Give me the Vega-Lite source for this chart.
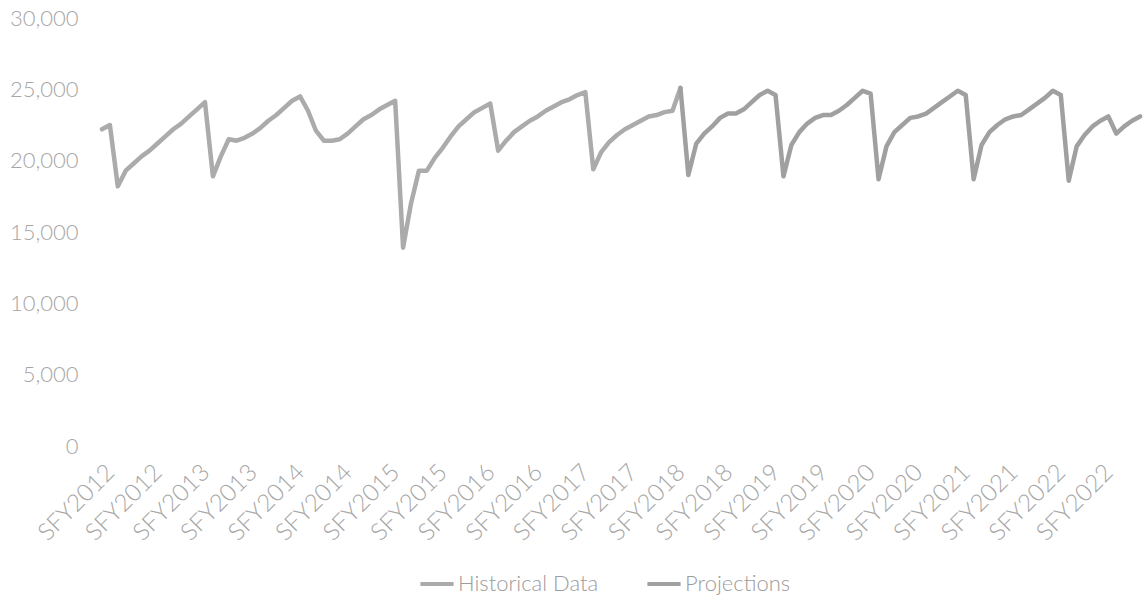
{
  "$schema": "https://vega.github.io/schema/vega-lite/v6.json",
  "width": 1046,
  "height": 428,
  "autosize": {"type": "none"},
  "padding": {"left": 98, "top": 18, "right": 0, "bottom": 154},
  "background": "white",
  "config": {
    "view": {"stroke": null},
    "font": "Lato",
    "axis": {"labelFont": "Lato", "labelFontWeight": 300, "labelColor": "#a6a6a6", "labelFontSize": 22},
    "legend": {"labelFont": "Lato", "labelFontWeight": 300, "labelColor": "#9c9c9c", "labelFontSize": 22}
  },
  "data": {
    "values": [
      {"m": "2011-07", "v": 22200, "s": "Historical Data"},
      {"m": "2011-08", "v": 22500, "s": "Historical Data"},
      {"m": "2011-09", "v": 18200, "s": "Historical Data"},
      {"m": "2011-10", "v": 19300, "s": "Historical Data"},
      {"m": "2011-11", "v": 19800, "s": "Historical Data"},
      {"m": "2011-12", "v": 20300, "s": "Historical Data"},
      {"m": "2012-01", "v": 20700, "s": "Historical Data"},
      {"m": "2012-02", "v": 21200, "s": "Historical Data"},
      {"m": "2012-03", "v": 21700, "s": "Historical Data"},
      {"m": "2012-04", "v": 22200, "s": "Historical Data"},
      {"m": "2012-05", "v": 22600, "s": "Historical Data"},
      {"m": "2012-06", "v": 23100, "s": "Historical Data"},
      {"m": "2012-07", "v": 23600, "s": "Historical Data"},
      {"m": "2012-08", "v": 24100, "s": "Historical Data"},
      {"m": "2012-09", "v": 18900, "s": "Historical Data"},
      {"m": "2012-10", "v": 20300, "s": "Historical Data"},
      {"m": "2012-11", "v": 21500, "s": "Historical Data"},
      {"m": "2012-12", "v": 21400, "s": "Historical Data"},
      {"m": "2013-01", "v": 21600, "s": "Historical Data"},
      {"m": "2013-02", "v": 21900, "s": "Historical Data"},
      {"m": "2013-03", "v": 22300, "s": "Historical Data"},
      {"m": "2013-04", "v": 22800, "s": "Historical Data"},
      {"m": "2013-05", "v": 23200, "s": "Historical Data"},
      {"m": "2013-06", "v": 23700, "s": "Historical Data"},
      {"m": "2013-07", "v": 24200, "s": "Historical Data"},
      {"m": "2013-08", "v": 24500, "s": "Historical Data"},
      {"m": "2013-09", "v": 23500, "s": "Historical Data"},
      {"m": "2013-10", "v": 22100, "s": "Historical Data"},
      {"m": "2013-11", "v": 21400, "s": "Historical Data"},
      {"m": "2013-12", "v": 21400, "s": "Historical Data"},
      {"m": "2014-01", "v": 21500, "s": "Historical Data"},
      {"m": "2014-02", "v": 21900, "s": "Historical Data"},
      {"m": "2014-03", "v": 22400, "s": "Historical Data"},
      {"m": "2014-04", "v": 22900, "s": "Historical Data"},
      {"m": "2014-05", "v": 23200, "s": "Historical Data"},
      {"m": "2014-06", "v": 23600, "s": "Historical Data"},
      {"m": "2014-07", "v": 23900, "s": "Historical Data"},
      {"m": "2014-08", "v": 24200, "s": "Historical Data"},
      {"m": "2014-09", "v": 13900, "s": "Historical Data"},
      {"m": "2014-10", "v": 17000, "s": "Historical Data"},
      {"m": "2014-11", "v": 19300, "s": "Historical Data"},
      {"m": "2014-12", "v": 19300, "s": "Historical Data"},
      {"m": "2015-01", "v": 20200, "s": "Historical Data"},
      {"m": "2015-02", "v": 20900, "s": "Historical Data"},
      {"m": "2015-03", "v": 21700, "s": "Historical Data"},
      {"m": "2015-04", "v": 22400, "s": "Historical Data"},
      {"m": "2015-05", "v": 22900, "s": "Historical Data"},
      {"m": "2015-06", "v": 23400, "s": "Historical Data"},
      {"m": "2015-07", "v": 23700, "s": "Historical Data"},
      {"m": "2015-08", "v": 24000, "s": "Historical Data"},
      {"m": "2015-09", "v": 20700, "s": "Historical Data"},
      {"m": "2015-10", "v": 21400, "s": "Historical Data"},
      {"m": "2015-11", "v": 22000, "s": "Historical Data"},
      {"m": "2015-12", "v": 22400, "s": "Historical Data"},
      {"m": "2016-01", "v": 22800, "s": "Historical Data"},
      {"m": "2016-02", "v": 23100, "s": "Historical Data"},
      {"m": "2016-03", "v": 23500, "s": "Historical Data"},
      {"m": "2016-04", "v": 23800, "s": "Historical Data"},
      {"m": "2016-05", "v": 24100, "s": "Historical Data"},
      {"m": "2016-06", "v": 24300, "s": "Historical Data"},
      {"m": "2016-07", "v": 24600, "s": "Historical Data"},
      {"m": "2016-08", "v": 24800, "s": "Historical Data"},
      {"m": "2016-09", "v": 19400, "s": "Historical Data"},
      {"m": "2016-10", "v": 20600, "s": "Historical Data"},
      {"m": "2016-11", "v": 21300, "s": "Historical Data"},
      {"m": "2016-12", "v": 21800, "s": "Historical Data"},
      {"m": "2017-01", "v": 22200, "s": "Historical Data"},
      {"m": "2017-02", "v": 22500, "s": "Historical Data"},
      {"m": "2017-03", "v": 22800, "s": "Historical Data"},
      {"m": "2017-04", "v": 23100, "s": "Historical Data"},
      {"m": "2017-05", "v": 23200, "s": "Historical Data"},
      {"m": "2017-06", "v": 23400, "s": "Historical Data"},
      {"m": "2017-07", "v": 23500, "s": "Historical Data"},
      {"m": "2017-08", "v": 25100, "s": "Historical Data"},
      {"m": "2017-08", "v": 25100, "s": "Projections"},
      {"m": "2017-09", "v": 19000, "s": "Projections"},
      {"m": "2017-10", "v": 21200, "s": "Projections"},
      {"m": "2017-11", "v": 21900, "s": "Projections"},
      {"m": "2017-12", "v": 22400, "s": "Projections"},
      {"m": "2018-01", "v": 23000, "s": "Projections"},
      {"m": "2018-02", "v": 23300, "s": "Projections"},
      {"m": "2018-03", "v": 23300, "s": "Projections"},
      {"m": "2018-04", "v": 23600, "s": "Projections"},
      {"m": "2018-05", "v": 24100, "s": "Projections"},
      {"m": "2018-06", "v": 24600, "s": "Projections"},
      {"m": "2018-07", "v": 24900, "s": "Projections"},
      {"m": "2018-08", "v": 24600, "s": "Projections"},
      {"m": "2018-09", "v": 18900, "s": "Projections"},
      {"m": "2018-10", "v": 21100, "s": "Projections"},
      {"m": "2018-11", "v": 22000, "s": "Projections"},
      {"m": "2018-12", "v": 22600, "s": "Projections"},
      {"m": "2019-01", "v": 23000, "s": "Projections"},
      {"m": "2019-02", "v": 23200, "s": "Projections"},
      {"m": "2019-03", "v": 23200, "s": "Projections"},
      {"m": "2019-04", "v": 23500, "s": "Projections"},
      {"m": "2019-05", "v": 23900, "s": "Projections"},
      {"m": "2019-06", "v": 24400, "s": "Projections"},
      {"m": "2019-07", "v": 24900, "s": "Projections"},
      {"m": "2019-08", "v": 24700, "s": "Projections"},
      {"m": "2019-09", "v": 18700, "s": "Projections"},
      {"m": "2019-10", "v": 21000, "s": "Projections"},
      {"m": "2019-11", "v": 22000, "s": "Projections"},
      {"m": "2019-12", "v": 22500, "s": "Projections"},
      {"m": "2020-01", "v": 23000, "s": "Projections"},
      {"m": "2020-02", "v": 23100, "s": "Projections"},
      {"m": "2020-03", "v": 23300, "s": "Projections"},
      {"m": "2020-04", "v": 23700, "s": "Projections"},
      {"m": "2020-05", "v": 24100, "s": "Projections"},
      {"m": "2020-06", "v": 24500, "s": "Projections"},
      {"m": "2020-07", "v": 24900, "s": "Projections"},
      {"m": "2020-08", "v": 24600, "s": "Projections"},
      {"m": "2020-09", "v": 18700, "s": "Projections"},
      {"m": "2020-10", "v": 21100, "s": "Projections"},
      {"m": "2020-11", "v": 22000, "s": "Projections"},
      {"m": "2020-12", "v": 22500, "s": "Projections"},
      {"m": "2021-01", "v": 22900, "s": "Projections"},
      {"m": "2021-02", "v": 23100, "s": "Projections"},
      {"m": "2021-03", "v": 23200, "s": "Projections"},
      {"m": "2021-04", "v": 23600, "s": "Projections"},
      {"m": "2021-05", "v": 24000, "s": "Projections"},
      {"m": "2021-06", "v": 24400, "s": "Projections"},
      {"m": "2021-07", "v": 24900, "s": "Projections"},
      {"m": "2021-08", "v": 24600, "s": "Projections"},
      {"m": "2021-09", "v": 18600, "s": "Projections"},
      {"m": "2021-10", "v": 21000, "s": "Projections"},
      {"m": "2021-11", "v": 21800, "s": "Projections"},
      {"m": "2021-12", "v": 22400, "s": "Projections"},
      {"m": "2022-01", "v": 22800, "s": "Projections"},
      {"m": "2022-02", "v": 23100, "s": "Projections"},
      {"m": "2022-03", "v": 21900, "s": "Projections"},
      {"m": "2022-04", "v": 22400, "s": "Projections"},
      {"m": "2022-05", "v": 22800, "s": "Projections"},
      {"m": "2022-06", "v": 23100, "s": "Projections"}
    ]
  },
  "mark": {"type": "line", "strokeWidth": 4.5, "strokeJoin": "round", "strokeCap": "round"},
  "encoding": {
    "x": {
      "field": "m",
      "type": "ordinal",
      "scale": {"type": "point", "padding": 0.5},
      "axis": {
        "title": null,
        "ticks": false,
        "domain": false,
        "grid": false,
        "labelAngle": -45,
        "labelFontSize": 24,
        "labelPadding": 14,
        "values": ["2011-07", "2012-01", "2012-07", "2013-01", "2013-07", "2014-01", "2014-07", "2015-01", "2015-07", "2016-01", "2016-07", "2017-01", "2017-07", "2018-01", "2018-07", "2019-01", "2019-07", "2020-01", "2020-07", "2021-01", "2021-07", "2022-01"],
        "labelExpr": "'SFY' + (toNumber(substring(datum.value, 0, 4)) + (toNumber(substring(datum.value, 5, 7)) >= 7 ? 1 : 0))"
      }
    },
    "y": {
      "field": "v",
      "type": "quantitative",
      "scale": {"domain": [0, 30000], "nice": false},
      "axis": {
        "title": null,
        "ticks": false,
        "domain": false,
        "grid": false,
        "format": ",.0f",
        "labelPadding": 20,
        "values": [0, 5000, 10000, 15000, 20000, 25000, 30000]
      }
    },
    "color": {
      "field": "s",
      "type": "nominal",
      "scale": {"domain": ["Historical Data", "Projections"], "range": ["#ababab", "#a0a0a0"]},
      "legend": {
        "orient": "none",
        "legendX": 320,
        "legendY": 547,
        "title": null,
        "direction": "horizontal",
        "symbolType": "stroke",
        "symbolStrokeWidth": 4,
        "symbolSize": 1100,
        "labelOffset": 2,
        "columnPadding": 40
      }
    }
  }
}
